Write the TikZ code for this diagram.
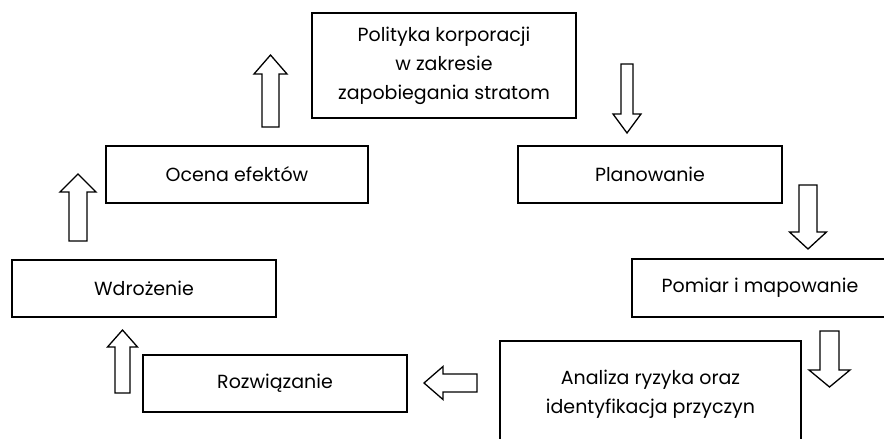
\documentclass[tikz,border=0pt]{standalone}
\usepackage{fontspec}
\setmainfont{Poppins}

% hollow block arrow, vertical: centre x, shaft half width, head half width,
% tail y, head base y, tip y
\newcommand\vblockarrow[6]{%
  \draw[blockarrow] (#1-#2,#4) -- (#1-#2,#5) -- (#1-#3,#5) -- (#1,#6)
    -- (#1+#3,#5) -- (#1+#2,#5) -- (#1+#2,#4) -- cycle;}
% hollow block arrow, horizontal: centre y, shaft half width, head half width,
% tail x, head base x, tip x
\newcommand\hblockarrow[6]{%
  \draw[blockarrow] (#4,#1-#2) -- (#5,#1-#2) -- (#5,#1-#3) -- (#6,#1)
    -- (#5,#1+#3) -- (#5,#1+#2) -- (#4,#1+#2) -- cycle;}

\begin{document}
\begin{tikzpicture}[x=1pt,y=-1pt,
  box/.style={draw=black, line width=1.6pt, fill=white, align=center,
    inner sep=0pt, text=black, font=\fontsize{19}{29}\selectfont},
  blockarrow/.style={draw=black, line width=1.3pt, fill=white, line join=miter}]
\useasboundingbox (0,0) rectangle (884,439);

% process steps
\node[box, minimum width=264pt, minimum height=105pt] (polityka) at (444,65.5)
  {Polityka korporacji\\ w zakresie\\ zapobiegania stratom};
\node[box, minimum width=264pt, minimum height=57pt] (planowanie) at (650,174.5)
  {Planowanie};
\node[box, minimum width=262pt, minimum height=57pt] (ocena) at (237,174.5)
  {Ocena efektów};
\node[box, minimum width=256pt, minimum height=58pt] (pomiar) at (760,288)
  {Pomiar i mapowanie};
\node[box, minimum width=264pt, minimum height=57pt] (wdrozenie) at (144,288.5)
  {Wdrożenie};
\node[box, minimum width=301pt, minimum height=106pt] (analiza) at (650.5,394)
  {Analiza ryzyka oraz\\ identyfikacja przyczyn};
\node[box, minimum width=264pt, minimum height=57pt] (rozwiazanie) at (275,383.5)
  {Rozwiązanie};

% flow arrows around the cycle
\vblockarrow{627}{6}{14}{64}{114}{133}
\vblockarrow{808}{9}{18.5}{185}{232}{249}
\vblockarrow{829.5}{9.5}{20.5}{331}{370}{387}
\hblockarrow{383}{9}{16.5}{477}{443}{424}
\vblockarrow{122.5}{7.5}{15}{393}{347}{330}
\vblockarrow{78}{9}{18}{241}{192}{174}
\vblockarrow{270.5}{8.5}{16.5}{127}{74}{55}
\end{tikzpicture}
\end{document}
